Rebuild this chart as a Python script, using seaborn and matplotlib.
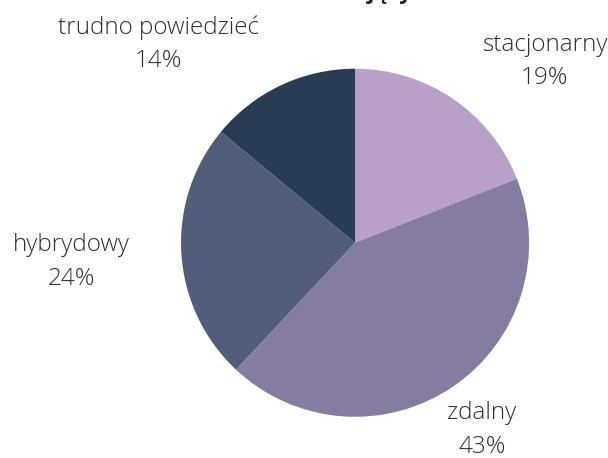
import matplotlib
matplotlib.use("Agg")
import matplotlib.pyplot as plt
import seaborn as sns

# chart data
categories = ["stacjonarny", "zdalny", "hybrydowy", "trudno powiedzieć"]
shares = [19, 43, 24, 14]
colors = ["#b9a0c6", "#857da0", "#525d7b", "#283c56"]

# label placement (in pie-radius units), tweaked to match the layout
label_pos = [(1.09, 1.04), (0.73, -1.075), (-1.63, -0.11), (-1.13, 1.14)]

sns.set_theme(style="white")
plt.rcParams["font.family"] = ["Open Sans", "DejaVu Sans"]

fig = plt.figure(figsize=(6.08, 4.58), dpi=100)
ax = fig.add_axes([0.0115, -0.29, 1.145, 1.52])

wedges, _ = ax.pie(shares, colors=sns.color_palette(colors), startangle=90,
                   counterclock=False, radius=1.0,
                   wedgeprops={"linewidth": 0})
ax.set_xlim(-2, 2)
ax.set_ylim(-2, 2)
ax.axis("off")

for name, val, (x, y) in zip(categories, shares, label_pos):
    ax.text(x, y, f"{name}\n{val}%", ha="center", va="center",
            fontsize=17.5, fontweight="light", color="#2e2e2e",
            linespacing=1.52)

# title is mostly cut off at the top edge of the image
fig.text(0.678, 1.003, "Model dominujący", ha="right", va="baseline",
         fontsize=16, fontweight="bold", color="#222222")

fig.savefig("out.png", dpi=100)
